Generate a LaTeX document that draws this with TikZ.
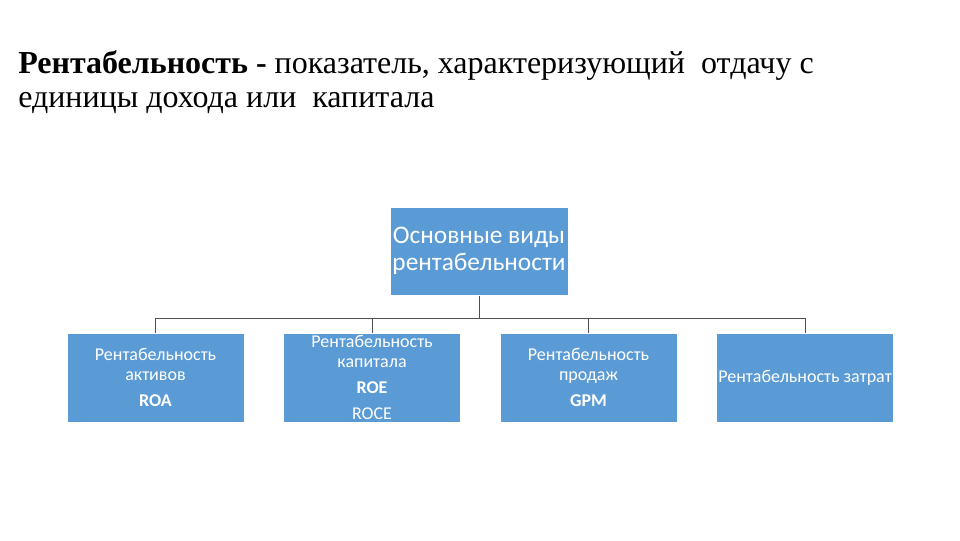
\documentclass[tikz,border=0pt]{standalone}
\usepackage{fontspec}
\setmainfont{Liberation Serif}
\newfontfamily\boxfont{Carlito}
\usetikzlibrary{math}
\definecolor{qblue}{RGB}{91,155,213}
\definecolor{qline}{RGB}{80,80,80}

\begin{document}
\begin{tikzpicture}[x=0.75pt,y=-0.75pt,
  kindbox/.style={fill=qblue,draw=white,line width=0.75pt,inner sep=0pt,
    minimum width=132.75pt,minimum height=66.75pt,text=white,align=center,
    font=\boxfont\fontsize{13.5}{14.5}\selectfont},
  branch/.style={draw=qline,line width=0.6pt}]
\tikzmath{
\w=216.5;
\yb=318;
}
\useasboundingbox (0,0) rectangle (960,540);
%title
\node[anchor=base west,inner sep=0pt,font=\fontsize{24}{25.5}\selectfont] (title1) at (18,73)
  {\textbf{Рентабельность -} показатель, характеризующий \ отдачу с};
\node[anchor=base west,inner sep=0pt,font=\fontsize{24}{25.5}\selectfont] (title2) at (18,107)
  {единицы дохода или \ капитала};
%root
\node[kindbox,minimum width=133.5pt,minimum height=66pt,font=\boxfont\fontsize{19}{20.25}\selectfont] (root) at (479,251)
  {Основные виды\\рентабельности};
\coordinate (rootjoin) at (479,\yb);
\draw[branch] (root.south) -- (rootjoin);
%kinds
\foreach \i/\txt in {0/{Рентабельность\\активов\\[5pt]\textbf{ROA}},
                     1/{Рентабельность\\капитала\\[5pt]\textbf{ROE}\\[5pt]ROCE},
                     2/{Рентабельность\\продаж\\[5pt]\textbf{GPM}},
                     3/{Рентабельность затрат}}{
 \tikzmath{
   \xk=155.5+\i*\w;
 }
 \node[kindbox] (kind\i) at (\xk,377.5) {\txt};
 \coordinate (join\i) at (\xk,\yb);
 \draw[branch] (join\i) -- (kind\i.north);
}
\draw[branch] (join0) -- (join3);
\end{tikzpicture}
\end{document}
